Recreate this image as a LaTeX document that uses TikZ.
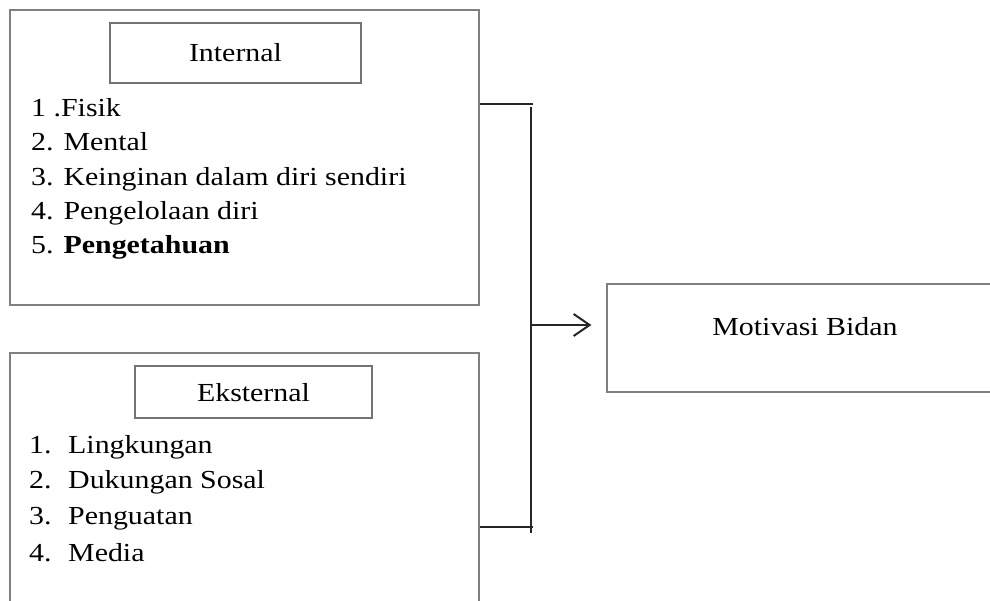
\documentclass[tikz,border=0pt]{standalone}
\usepackage{fontspec}
\setmainfont{Liberation Serif}[FakeStretch=1.15]
\usetikzlibrary{arrows.meta}
\tikzset{
  outerbox/.style={draw=black!50, line width=1.2pt, rectangle, inner sep=0pt},
  titlebox/.style={draw=black!55, line width=1.2pt, rectangle, inner sep=0pt, font=\fontsize{26}{30}\selectfont},
  item/.style={anchor=base west, inner sep=0pt, font=\fontsize{26}{30}\selectfont},
  conn/.style={draw=black!85, line width=2pt},
}
\begin{document}
\begin{tikzpicture}[x=1pt,y=-1pt]
\useasboundingbox (0,0) rectangle (990,601);
\clip (0,0) rectangle (990,601);
% Internal group
\node[outerbox, minimum width=469pt, minimum height=295pt] (int) at (244.5,157.5) {};
\node[titlebox, minimum width=251pt, minimum height=60pt, text depth=0pt, text height=18pt] (intt) at (235.5,53) {Internal};
\node[item] (i1) at (31,117) {1 .Fisik};
\node[item] (i2) at (31,151) {2. Mental};
\node[item] (i3) at (31,185.5) {3. Keinginan dalam diri sendiri};
\node[item] (i4) at (31,220) {4. Pengelolaan diri};
\node[item] (i5) at (31,254) {5. \textbf{Pengetahuan}};
% Eksternal group
\node[outerbox, minimum width=469pt, minimum height=267pt] (ext) at (244.5,486.5) {};
\node[titlebox, minimum width=237pt, minimum height=52pt, text depth=0pt, text height=18pt] (extt) at (253.5,392) {Eksternal};
\node[item] (e1) at (29,453) {\makebox[39pt][l]{1.}Lingkungan};
\node[item] (e2) at (29,488) {\makebox[39pt][l]{2.}Dukungan Sosal};
\node[item] (e3) at (29,524) {\makebox[39pt][l]{3.}Penguatan};
\node[item] (e4) at (29,561) {\makebox[39pt][l]{4.}Media};
% Motivasi
\node[outerbox, minimum width=393pt, minimum height=108pt] (mot) at (803.5,338) {};
\node[item, anchor=base] (mott) at (805,335) {Motivasi Bidan};
% connectors
\coordinate (ta) at (int.east |- 0,104);
\coordinate (tb) at (533,104);
\coordinate (ba) at (ext.east |- 0,527);
\coordinate (bb) at (533,527);
\coordinate (vt) at (531,107);
\coordinate (vb) at (531,533);
\coordinate (va) at (531,325);
\draw[conn] (ta) -- (tb);
\draw[conn] (ba) -- (bb);
\draw[conn] (vt) -- (vb);
\draw[conn, -{Straight Barb[length=16pt,width=22pt,line width=2pt]}, shorten >=15pt] (va) -- (mot.west |- va);
\end{tikzpicture}
\end{document}
